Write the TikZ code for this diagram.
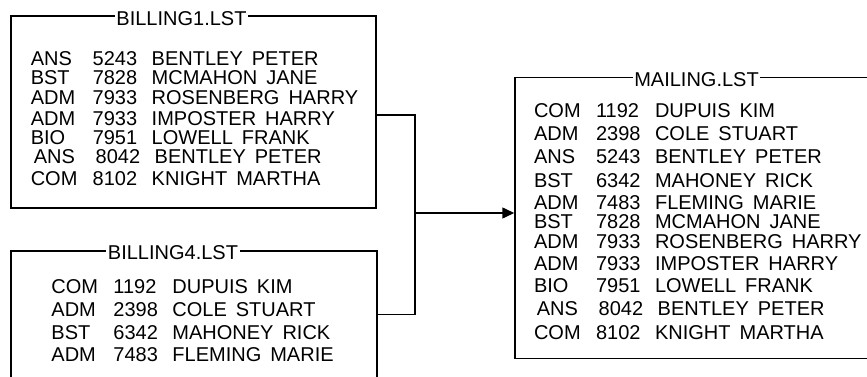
\documentclass[tikz,border=0pt]{standalone}
\usepackage{fontspec}
\setmainfont{Liberation Sans}
\usetikzlibrary{arrows.meta}
\newcommand{\wgap}{\hspace{9pt}}
\newcommand{\entry}[3]{\makebox[62pt][l]{#1}\makebox[59pt][l]{#2}#3}

\begin{document}
\begin{tikzpicture}[x=1pt,y=-1pt,line width=1.5pt,font=\fontsize{20}{24}\selectfont,
  listbox/.style={draw,inner sep=0pt},
  boxtitle/.style={fill=white,inner xsep=1.5pt,inner ysep=0pt,anchor=base},
  row/.style={anchor=base west,inner sep=0pt},
  link/.style={line width=1.5pt}]
\path[use as bounding box] (0,0) rectangle (867,377);
\clip (0,0) rectangle (867,377);
% the three list files
\node[listbox,minimum width=365pt,minimum height=192pt] (bill1) at (193.5,112) {};
\node[listbox,minimum width=366pt,minimum height=127pt] (bill4) at (194,314.5) {};
\node[listbox,minimum width=365pt,minimum height=280.6pt] (mail) at (697.5,218) {};
\node[boxtitle] (t1) at ([xshift=-12pt,yshift=-10pt]bill1.north) {BILLING1.LST};
\node[boxtitle] (t4) at ([xshift=-21pt,yshift=-9.5pt]bill4.north) {BILLING4.LST};
\node[boxtitle] (tm) at ([xshift=-1pt,yshift=-9.5pt]mail.north) {MAILING.LST};
% BILLING1.LST
\node[row] (b1a) at (30,65.5) {\entry{ANS}{5243}{BENTLEY\wgap PETER}};
\node[row] (b1b) at (30,85) {\entry{BST}{7828}{MCMAHON\wgap JANE}};
\node[row] (b1c) at (30,105) {\entry{ADM}{7933}{ROSENBERG\wgap HARRY}};
\node[row] (b1d) at (30,125) {\entry{ADM}{7933}{IMPOSTER\wgap HARRY}};
\node[row] (b1e) at (30,144) {\entry{BIO}{7951}{LOWELL\wgap FRANK}};
\node[row] (b1f) at (33,164) {\entry{ANS}{8042}{BENTLEY\wgap PETER}};
\node[row] (b1g) at (30,185) {\entry{COM}{8102}{KNIGHT\wgap MARTHA}};
% BILLING4.LST
\node[row] (b4a) at (50.7,293) {\entry{COM}{1192}{DUPUIS\wgap KIM}};
\node[row] (b4b) at (50.7,316) {\entry{ADM}{2398}{COLE\wgap STUART}};
\node[row] (b4c) at (50.7,339) {\entry{BST}{6342}{MAHONEY\wgap RICK}};
\node[row] (b4d) at (50.7,361.7) {\entry{ADM}{7483}{FLEMING\wgap MARIE}};
% MAILING.LST
\node[row] (ma) at (533.3,118) {\entry{COM}{1192}{DUPUIS\wgap KIM}};
\node[row] (mb) at (533.3,141) {\entry{ADM}{2398}{COLE\wgap STUART}};
\node[row] (mc) at (533.3,164) {\entry{ANS}{5243}{BENTLEY\wgap PETER}};
\node[row] (md) at (533.3,187) {\entry{BST}{6342}{MAHONEY\wgap RICK}};
\node[row] (me) at (533.3,209) {\entry{ADM}{7483}{FLEMING\wgap MARIE}};
\node[row] (mf) at (533.3,228.5) {\entry{BST}{7828}{MCMAHON\wgap JANE}};
\node[row] (mg) at (533.3,248) {\entry{ADM}{7933}{ROSENBERG\wgap HARRY}};
\node[row] (mh) at (533.3,270) {\entry{ADM}{7933}{IMPOSTER\wgap HARRY}};
\node[row] (mi) at (533.3,292) {\entry{BIO}{7951}{LOWELL\wgap FRANK}};
\node[row] (mj) at (536,315) {\entry{ANS}{8042}{BENTLEY\wgap PETER}};
\node[row] (mk) at (533.3,339) {\entry{COM}{8102}{KNIGHT\wgap MARTHA}};
% merge
\coordinate (join) at (415,213);
\draw[link] ([yshift=-3pt]bill1.east) -| (join) |- (bill4.east);
\draw[link,-{Triangle[length=12pt,width=11pt]}] (join) -- (join -| mail.west);
\end{tikzpicture}
\end{document}
